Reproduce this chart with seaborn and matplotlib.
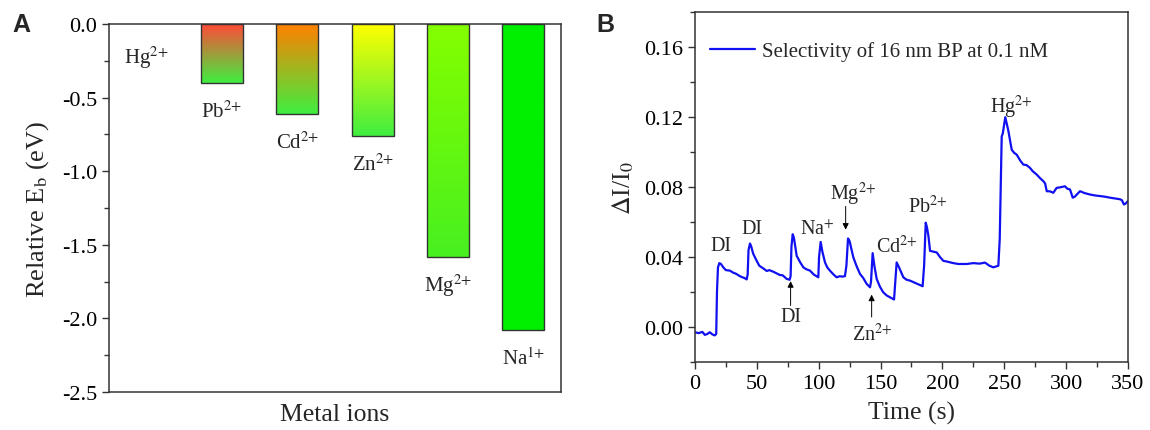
import numpy as np
import pandas as pd
import matplotlib
matplotlib.use("Agg")
import matplotlib.pyplot as plt
from matplotlib.colors import to_rgb
from matplotlib.ticker import MultipleLocator
import seaborn as sns

# ---------------- data ----------------
ions = ["Hg", "Pb", "Cd", "Zn", "Mg", "Na"]
ion_labels = ["Hg$^{2{+}}$", "Pb$^{2{+}}$", "Cd$^{2{+}}$", "Zn$^{2{+}}$", "Mg$^{2{+}}$", "Na$^{1{+}}$"]
rel_eb = [0.0, -0.40, -0.61, -0.76, -1.58, -2.08]

time_s = [0, 3, 6, 8, 10, 12, 14, 16, 17.2,
          17.8, 18.6, 19.7, 21, 23, 25, 28.3, 31, 33, 36.4, 38, 40, 41.8, 42.6,
          43.3, 44.5, 45.5, 47, 49.9, 52, 55.2, 58, 60, 63.3, 65, 68.7, 71, 74.1, 76.5, 77.3,
          78, 79, 80, 82.2, 85, 87.6, 90, 93, 96, 99.7,
          100.3, 101.6, 103, 105.1, 107, 109.1, 112, 114.5, 117, 119, 121.2, 122.4,
          123.7, 125, 128, 130.5, 133.4, 136, 138.8, 141.5, 142.3,
          143.6, 145, 146.9, 149.5, 152.2, 155, 157.6, 160.9, 161.8,
          163, 165, 168.4, 171, 173.8, 177, 181.9, 184, 185.2,
          186.5, 187.5, 188.7, 190, 193, 195.4, 198, 200.7, 203, 206, 208.8, 213, 219.6,
          225, 230, 234.4, 238, 241.1, 243, 245.2, 246.3,
          247.9, 248.8, 250.8, 253.2, 256, 258, 260, 263, 265.4, 268, 270.8, 273, 276.2,
          279, 281.6, 283, 284.3, 287, 289.6, 292.3, 295, 299, 301, 303.1, 305.3, 307,
          311.2, 315, 319.3, 323, 327.4, 331, 335.4, 339, 343.5, 345, 346.7, 348, 350]

delta_i = [-0.003, -0.0035, -0.0028, -0.0045, -0.004, -0.003, -0.0042, -0.0048, -0.004,
           0.020, 0.034, 0.0365, 0.036, 0.034, 0.0325, 0.0322, 0.031, 0.0305, 0.029, 0.0285, 0.028, 0.0272, 0.030,
           0.044, 0.0477, 0.046, 0.042, 0.0378, 0.035, 0.0335, 0.032, 0.0325, 0.0316, 0.031, 0.0297, 0.0295, 0.0275, 0.027, 0.029,
           0.046, 0.053, 0.051, 0.0407, 0.037, 0.0341, 0.033, 0.0322, 0.030, 0.0284,
           0.040, 0.0486, 0.043, 0.0369, 0.034, 0.0322, 0.030, 0.0284, 0.029, 0.0288, 0.029, 0.035,
           0.0506, 0.049, 0.0398, 0.035, 0.0303, 0.028, 0.0246, 0.0227, 0.026,
           0.0422, 0.035, 0.0274, 0.023, 0.0198, 0.018, 0.017, 0.0157, 0.025,
           0.0369, 0.034, 0.0284, 0.027, 0.0265, 0.0255, 0.024, 0.0233, 0.035,
           0.0596, 0.057, 0.052, 0.0435, 0.043, 0.0426, 0.040, 0.0378, 0.0375, 0.037, 0.0365, 0.036, 0.036,
           0.0365, 0.0362, 0.0368, 0.035, 0.0341, 0.0345, 0.035, 0.050,
           0.1088, 0.1107, 0.1199, 0.1124, 0.1013, 0.0995, 0.0985, 0.095, 0.0928, 0.0925, 0.0909, 0.089, 0.0871,
           0.085, 0.0833, 0.082, 0.0776, 0.0775, 0.0767, 0.0795, 0.0798, 0.0804, 0.079, 0.0786, 0.0739, 0.0745,
           0.0776, 0.0765, 0.0757, 0.0752, 0.0748, 0.0745, 0.0739, 0.0735, 0.073, 0.0725, 0.070, 0.0705, 0.072]

legend_label = "Selectivity of 16 nm BP at 0.1 nM"

# ---------------- style ----------------
sns.set_style("ticks")
plt.rcParams["font.family"] = ["Liberation Serif", "DejaVu Serif"]
plt.rcParams["mathtext.fontset"] = "stix"
plt.rcParams["axes.edgecolor"] = "#333333"
plt.rcParams["axes.linewidth"] = 1.1
plt.rcParams["xtick.color"] = "#333333"
plt.rcParams["ytick.color"] = "#333333"
plt.rcParams["xtick.labelcolor"] = "black"
plt.rcParams["ytick.labelcolor"] = "black"

top_colors = ["#ff3030", "#ff4a38", "#ff8000", "#ffff00", "#84ff00", "#00f000"]
bottom_colors = ["#40ee40", "#40ee40", "#40ee40", "#40ee40", "#48f020", "#00f000"]

fig = plt.figure(figsize=(11.5, 4.31), dpi=100)
axA = fig.add_axes([0.0948, 0.0882, 0.393, 0.854])
axB = fig.add_axes([0.6043, 0.1578, 0.3766, 0.812])

# ---------------- panel A ----------------
dfA = pd.DataFrame({"ion": ions, "eb": rel_eb})
sns.barplot(data=dfA, x="ion", y="eb", ax=axA, width=0.56, color="white",
            edgecolor="#333333", linewidth=1.0)
for i, p in enumerate(axA.patches):
    x0, w = p.get_x(), p.get_width()
    h = p.get_height()
    if abs(h) < 1e-9:
        p.set_visible(False)
        continue
    c0 = np.array(to_rgb(top_colors[i]))
    c1 = np.array(to_rgb(bottom_colors[i]))
    t = np.linspace(0, 1, 128)[:, None]
    grad = (c0[None, :] * (1 - t) + c1[None, :] * t)[:, None, :]
    im = axA.imshow(grad, extent=[x0, x0 + w, h, 0], aspect="auto",
                    interpolation="bilinear", zorder=p.get_zorder() - 0.1)
    im.set_clip_path(p)
    p.set_facecolor("none")
    p.set_zorder(3)

for i, (lab, v) in enumerate(zip(ion_labels, rel_eb)):
    axA.text(i, v - (0.22 if v == 0 else 0.19), lab, ha="center", va="center", fontsize=15)

axA.set_xlim(-0.5, 5.5)
axA.set_ylim(-2.5, 0.0)
axA.yaxis.set_major_locator(MultipleLocator(0.5))
axA.yaxis.set_minor_locator(MultipleLocator(0.25))
axA.set_yticks(np.arange(-2.5, 0.01, 0.5))
axA.set_yticklabels([f"{v:.1f}" for v in np.arange(-2.5, 0.01, 0.5)])
axA.tick_params(axis="y", which="major", length=5, width=1.0, labelsize=16, direction="out")
axA.tick_params(axis="y", which="minor", length=3.5, width=1.0, direction="out")
axA.set_xticks([])
axA.set_xlabel("Metal ions", fontsize=18.5, labelpad=8)
axA.set_ylabel("Relative E$_{\\mathrm{b}}$ (eV)", fontsize=19, labelpad=8)
for s in axA.spines.values():
    s.set_visible(True)
    s.set_zorder(5)

# ---------------- panel B ----------------
dfB = pd.DataFrame({"t": time_s, "v": delta_i})
sns.lineplot(data=dfB, x="t", y="v", ax=axB, color="#1010f0", linewidth=1.6,
             sort=False, estimator=None, label=legend_label)
axB.set_xlim(0, 350)
axB.set_ylim(-0.02, 0.18)
axB.xaxis.set_major_locator(MultipleLocator(50))
axB.xaxis.set_minor_locator(MultipleLocator(25))
axB.yaxis.set_major_locator(MultipleLocator(0.04))
axB.yaxis.set_minor_locator(MultipleLocator(0.02))
axB.yaxis.set_major_formatter(plt.FuncFormatter(lambda v, _: f"{v:.2f}"))
axB.tick_params(which="major", length=5, width=1.0, labelsize=16, direction="out")
axB.tick_params(which="minor", length=3.5, width=1.0, direction="out")
axB.set_xlabel("Time (s)", fontsize=18.5, labelpad=6)
axB.set_ylabel("$\\Delta$I/I$_0$", fontsize=18.5, labelpad=6)
for s in axB.spines.values():
    s.set_visible(True)

leg = axB.legend(loc="upper left", frameon=False, fontsize=15, handlelength=2.2,
                 handletextpad=0.3, borderaxespad=0.3, bbox_to_anchor=(0.0, 0.958))

fs = 14.5
axB.text(20.8, 0.0464, "DI", ha="center", va="center", fontsize=fs)
axB.text(46.1, 0.056, "DI", ha="center", va="center", fontsize=fs)
axB.text(99.2, 0.056, "Na$^{+}$", ha="center", va="center", fontsize=fs)
axB.text(163, 0.0464, "Cd$^{2{+}}$", ha="center", va="center", fontsize=fs)
axB.text(188.3, 0.0691, "Pb$^{2{+}}$", ha="center", va="center", fontsize=fs)
axB.text(256, 0.126, "Hg$^{2{+}}$", ha="center", va="center", fontsize=fs)
arrow = dict(arrowstyle="-|>", color="black", lw=0.7, mutation_scale=9, shrinkA=0, shrinkB=0)
axB.annotate("", xy=(77.3, 0.0262), xytext=(77.3, 0.0123), arrowprops=arrow)
axB.text(77.3, 0.0059, "DI", ha="center", va="center", fontsize=fs)
axB.annotate("", xy=(121.8, 0.0556), xytext=(121.8, 0.0689), arrowprops=arrow)
axB.text(127.6, 0.0765, "Mg$^{2{+}}$", ha="center", va="center", fontsize=fs)
axB.annotate("", xy=(142.8, 0.0185), xytext=(142.8, 0.0057), arrowprops=arrow)
axB.text(143.5, -0.0038, "Zn$^{2{+}}$", ha="center", va="center", fontsize=fs)

# panel letters
fig.text(0.0105, 0.942, "A", family=["Liberation Sans", "DejaVu Sans"], fontweight="bold",
         fontsize=18, ha="left", va="center")
fig.text(0.519, 0.942, "B", family=["Liberation Sans", "DejaVu Sans"], fontweight="bold",
         fontsize=18, ha="left", va="center")

fig.savefig("out.png", dpi=100)
